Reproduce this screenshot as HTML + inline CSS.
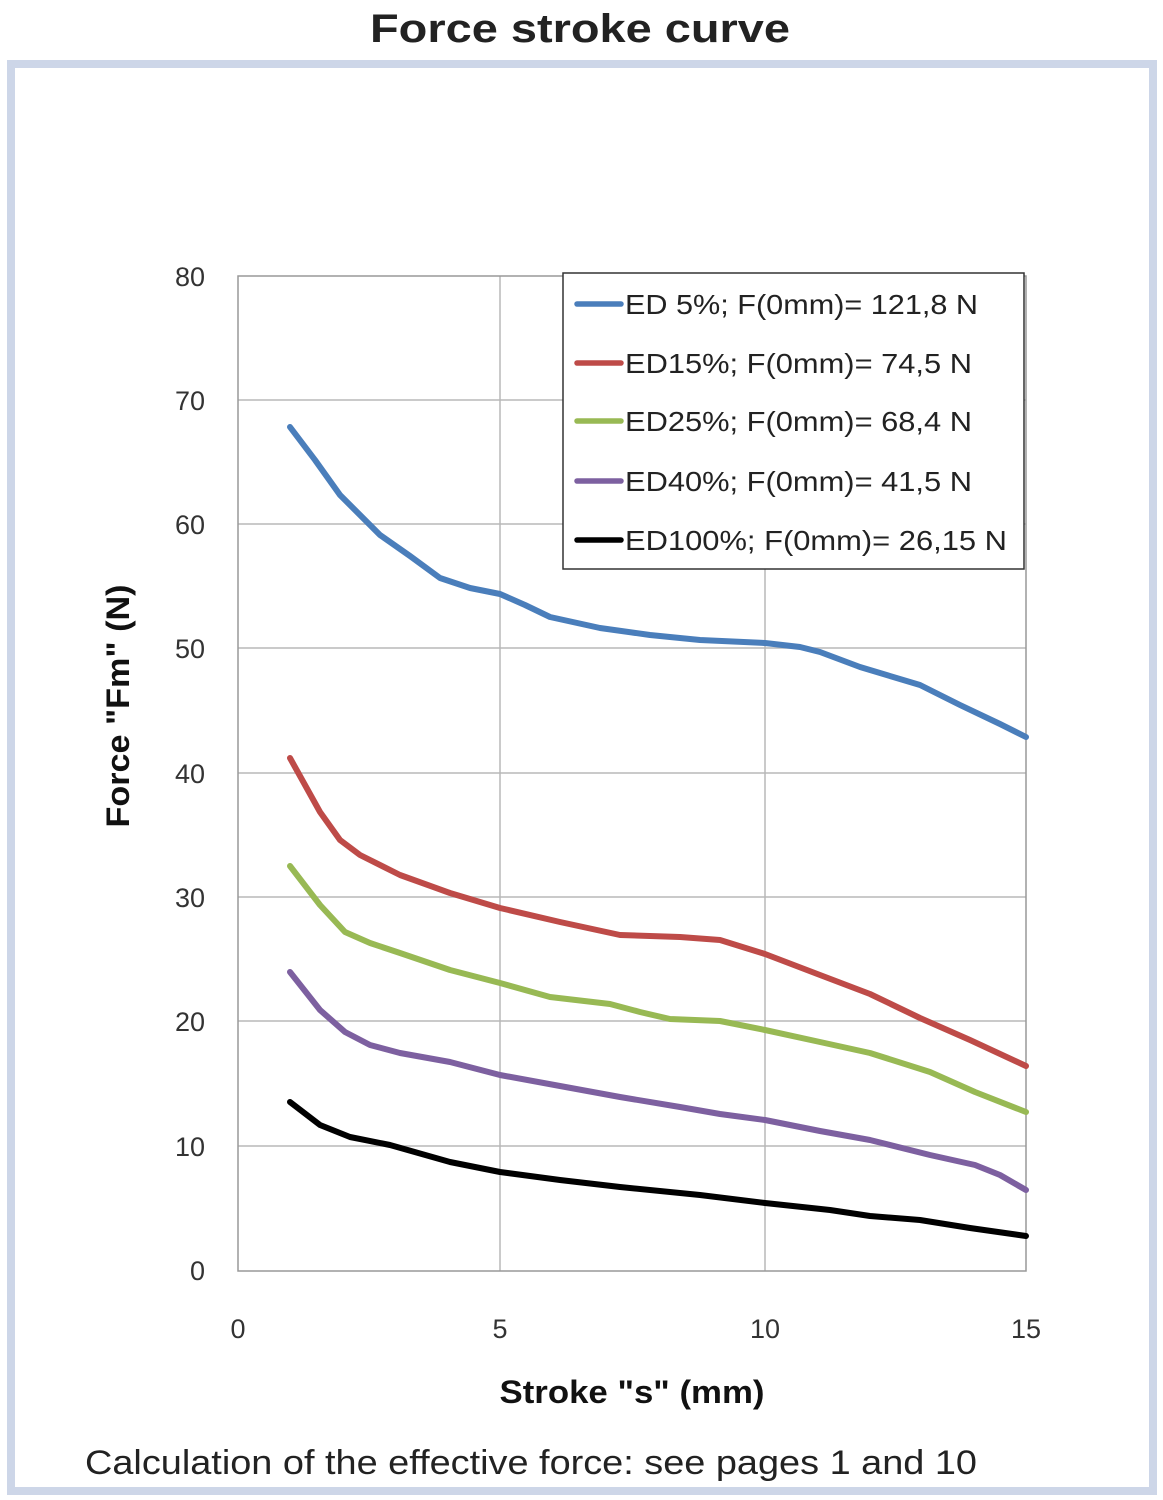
<!DOCTYPE html>
<html><head><meta charset="utf-8"><style>
html,body{margin:0;padding:0;background:#fff}
svg{display:block}
</style></head><body>
<svg width="1163" height="1500" viewBox="0 0 1163 1500" xmlns="http://www.w3.org/2000/svg" font-family="Liberation Sans, sans-serif">
<rect x="0" y="0" width="1163" height="1500" fill="#fff"/>
<text x="580" y="42" text-anchor="middle" font-size="40" font-weight="bold" fill="#222" textLength="420" lengthAdjust="spacingAndGlyphs">Force stroke curve</text>
<rect x="11" y="64" width="1142" height="1427" fill="none" stroke="#cdd6e8" stroke-width="8"/>
<g stroke="#b8b8b8" stroke-width="1.5" fill="none">
<line x1="500" y1="276" x2="500" y2="1271"/>
<line x1="765" y1="276" x2="765" y2="1271"/>
<line x1="238" y1="400" x2="1026" y2="400"/>
<line x1="238" y1="524" x2="1026" y2="524"/>
<line x1="238" y1="648" x2="1026" y2="648"/>
<line x1="238" y1="773" x2="1026" y2="773"/>
<line x1="238" y1="897" x2="1026" y2="897"/>
<line x1="238" y1="1021" x2="1026" y2="1021"/>
<line x1="238" y1="1146" x2="1026" y2="1146"/>
<rect x="238" y="276" width="788" height="995" stroke="#999"/>
</g>
<g font-size="27" fill="#333" text-anchor="end">
<text x="205" y="286">80</text><text x="205" y="410">70</text><text x="205" y="534">60</text>
<text x="205" y="658">50</text><text x="205" y="783">40</text><text x="205" y="907">30</text>
<text x="205" y="1031">20</text><text x="205" y="1156">10</text><text x="205" y="1280">0</text>
</g>
<g font-size="27" fill="#333" text-anchor="middle">
<text x="238" y="1338">0</text><text x="500" y="1338">5</text><text x="765" y="1338">10</text><text x="1026" y="1338">15</text>
</g>
<text x="632" y="1403" text-anchor="middle" font-size="32" font-weight="bold" fill="#111" textLength="265" lengthAdjust="spacingAndGlyphs">Stroke "s" (mm)</text>
<text transform="translate(129,706) rotate(-90)" text-anchor="middle" font-size="32" font-weight="bold" fill="#111" textLength="243" lengthAdjust="spacingAndGlyphs">Force "Fm" (N)</text>
<g fill="none" stroke-width="6" stroke-linejoin="round" stroke-linecap="round">
<polyline stroke="#4a7ebb" points="290,427 315,460 340,495 380,535 410,556 440,578 470,588 500,594 525,605 550,617 600,628 650,635 700,640 765,643 800,647 820,652 860,667 920,685 960,705 1000,724 1026,737"/>
<polyline stroke="#be4b48" points="290,758 320,812 340,840 360,855 400,875 450,893 500,908 560,922 620,935 680,937 720,940 765,954 820,975 870,994 920,1018 970,1040 1026,1066"/>
<polyline stroke="#98b954" points="290,866 320,905 345,932 370,943 400,953 450,970 500,983 550,997 610,1004 640,1012 670,1019 720,1021 765,1030 820,1042 870,1053 930,1072 975,1092 1026,1112"/>
<polyline stroke="#7d60a0" points="290,972 320,1010 345,1032 370,1045 400,1053 450,1062 500,1075 560,1086 620,1097 680,1107 720,1114 765,1120 820,1131 870,1140 930,1155 975,1165 1000,1175 1026,1190"/>
<polyline stroke="#000" points="290,1102 320,1125 350,1137 390,1145 450,1162 500,1172 560,1180 620,1187 700,1195 765,1203 830,1210 870,1216 920,1220 970,1228 1026,1236"/>
</g>
<rect x="563" y="273" width="461" height="296" fill="#fff" stroke="#333" stroke-width="1.5"/>
<g stroke-width="5.5" stroke-linecap="round">
<line x1="577" y1="304" x2="621" y2="304" stroke="#4a7ebb"/>
<line x1="577" y1="363" x2="621" y2="363" stroke="#be4b48"/>
<line x1="577" y1="421" x2="621" y2="421" stroke="#98b954"/>
<line x1="577" y1="481" x2="621" y2="481" stroke="#7d60a0"/>
<line x1="577" y1="540" x2="621" y2="540" stroke="#000"/>
</g>
<g font-size="28" fill="#222">
<text x="625" y="314" textLength="353" lengthAdjust="spacingAndGlyphs">ED 5%; F(0mm)= 121,8 N</text>
<text x="625" y="373" textLength="347" lengthAdjust="spacingAndGlyphs">ED15%; F(0mm)= 74,5 N</text>
<text x="625" y="431" textLength="347" lengthAdjust="spacingAndGlyphs">ED25%; F(0mm)= 68,4 N</text>
<text x="625" y="491" textLength="347" lengthAdjust="spacingAndGlyphs">ED40%; F(0mm)= 41,5 N</text>
<text x="625" y="550" textLength="382" lengthAdjust="spacingAndGlyphs">ED100%; F(0mm)= 26,15 N</text>
</g>
<text x="85" y="1474" font-size="34" fill="#222" textLength="892" lengthAdjust="spacingAndGlyphs">Calculation of the effective force: see pages 1 and 10</text>
</svg>
</body></html>
